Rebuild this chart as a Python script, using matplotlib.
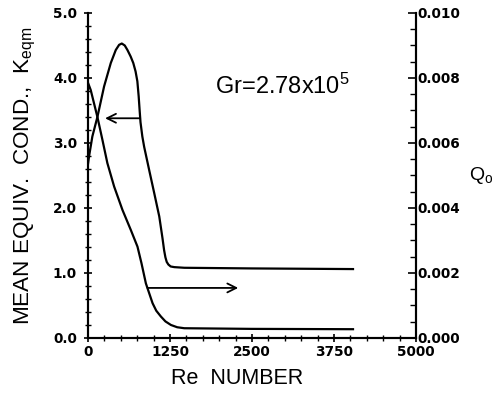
import matplotlib

matplotlib.use("Agg")
import matplotlib.pyplot as plt
from matplotlib.font_manager import FontProperties
from matplotlib.ticker import MultipleLocator, FixedLocator

# K_eqm curve (left axis)
re_k = [0, 15, 66, 143, 245, 347, 423, 474, 515, 560, 601, 650, 690, 725,
        752, 772, 787, 800, 828, 856, 933, 1009, 1086, 1136, 1160, 1180,
        1200, 1225, 1260, 1315, 1468, 2500, 4040]
k_eqm = [2.68, 2.79, 3.10, 3.40, 3.87, 4.23, 4.43, 4.51, 4.53, 4.50, 4.43,
         4.33, 4.23, 4.10, 3.95, 3.72, 3.50, 3.32, 3.10, 2.94, 2.58, 2.23,
         1.87, 1.53, 1.35, 1.24, 1.17, 1.13, 1.10, 1.09, 1.08, 1.07, 1.06]

# Q_o curve (right axis)
re_q = [0, 41, 143, 219, 295, 398, 525, 653, 754, 815, 882, 907, 984,
        1040, 1111, 1180, 1264, 1360, 1468, 2500, 4040]
q_o = [0.00785, 0.00763, 0.00680, 0.00610, 0.00538, 0.00466, 0.00394,
       0.00332, 0.00281, 0.00230, 0.00168, 0.00153, 0.00107, 0.00084,
       0.00066, 0.00051, 0.00040, 0.00033, 0.00030, 0.00028, 0.00027]

x_ticks = [0, 1250, 2500, 3750, 5000]
x_ticklabels = ["0", "1250", "2500", "3750", "5000"]
k_ticks = [0.0, 1.0, 2.0, 3.0, 4.0, 5.0]
q_ticks = [0.000, 0.002, 0.004, 0.006, 0.008, 0.010]

plt.rcParams["font.family"] = ["Liberation Sans", "DejaVu Sans"]
plt.rcParams["mathtext.default"] = "regular"

fig = plt.figure(figsize=(5.03, 3.93), dpi=100)
ax = fig.add_axes([0.175, 0.14, 0.652, 0.827])
ax2 = ax.twinx()

ax.plot(re_k, k_eqm, color="black", lw=1.6)
ax2.plot(re_q, q_o, color="black", lw=1.6)

ax.set_xlim(0, 5000)
ax.set_ylim(0, 5.0)
ax2.set_ylim(0, 0.010)

for a in (ax, ax2):
    a.spines["top"].set_visible(False)
    for s in ("left", "right", "bottom"):
        a.spines[s].set_linewidth(1.5)

ax.xaxis.set_major_locator(FixedLocator(x_ticks))
ax.set_xticklabels(x_ticklabels)
ax.xaxis.set_minor_locator(MultipleLocator(250))
ax.yaxis.set_major_locator(FixedLocator(k_ticks))
ax.set_yticklabels([f"{v:.1f}" for v in k_ticks])
ax.yaxis.set_minor_locator(MultipleLocator(0.2))
ax2.yaxis.set_major_locator(FixedLocator(q_ticks))
ax2.set_yticklabels([f"{v:.3f}" for v in q_ticks])
ax2.yaxis.set_minor_locator(MultipleLocator(0.0005))

tick_fp = FontProperties(family="DejaVu Sans", weight="bold", size=9.8)
for lab in ax.get_xticklabels() + ax.get_yticklabels() + ax2.get_yticklabels():
    lab.set_fontproperties(tick_fp)

ax.tick_params(axis="both", which="major", direction="inout", length=6, width=1.2)
ax.tick_params(axis="both", which="minor", direction="inout", length=4, width=1.0)
ax.tick_params(axis="x", pad=2)
ax.tick_params(axis="y", pad=5)
ax2.tick_params(axis="y", which="major", direction="in", length=6, width=1.2, pad=1)
ax2.tick_params(axis="y", which="minor", direction="in", length=4, width=1.0)

ax.set_xlabel("Re  NUMBER", fontsize=15.5)
ax.xaxis.set_label_coords(0.455, -0.093, transform=ax.transAxes)
ax.set_ylabel(r"MEAN EQUIV.  COND.,  K$_{eqm}$", fontsize=16.2)
ax.yaxis.set_label_coords(-0.152, 0.5, transform=ax.transAxes)
ax2.set_ylabel(r"Q$_o$", fontsize=14, rotation=0, labelpad=15, va="center")

ax.text(1942, 3.87, r"Gr=2.78x10$^5$", fontsize=17, va="center", ha="left")

ax.annotate("", xy=(260, 3.38), xytext=(795, 3.38),
            arrowprops=dict(arrowstyle="->", color="black", lw=1.3,
                            mutation_scale=16, shrinkA=0, shrinkB=0))
ax.annotate("", xy=(2290, 0.77), xytext=(907, 0.77),
            arrowprops=dict(arrowstyle="->", color="black", lw=1.3,
                            mutation_scale=16, shrinkA=0, shrinkB=0))

fig.savefig("out.png", dpi=100)
